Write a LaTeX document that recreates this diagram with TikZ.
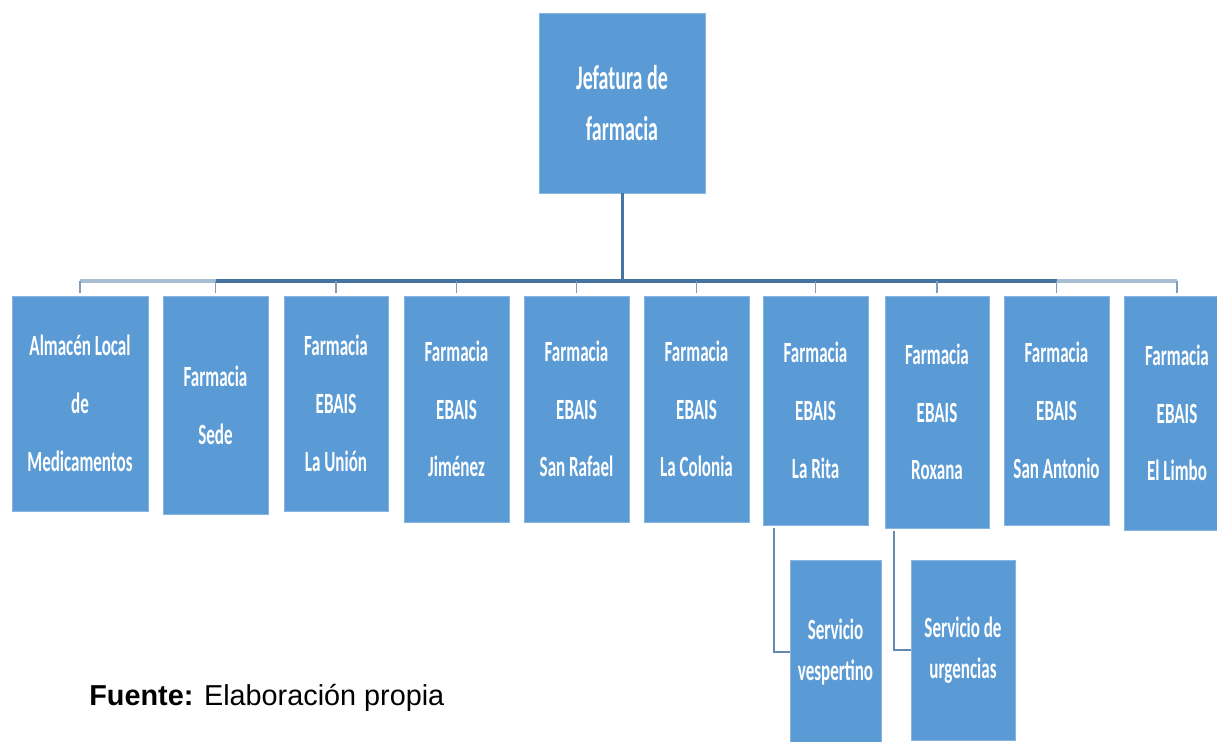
\documentclass[tikz,border=0pt]{standalone}
\usepackage{fontspec}
\setmainfont{Liberation Sans}
\newfontfamily\boxfont[FakeStretch=0.58,UprightFont={* Bold}]{Carlito}
\usetikzlibrary{calc}
\definecolor{unitblue}{RGB}{91,155,213}
\definecolor{unitedge}{RGB}{135,180,225}
\definecolor{linedark}{RGB}{70,116,162}
\definecolor{linelight}{RGB}{168,190,212}
\definecolor{droplight}{RGB}{128,158,188}
\newcommand\unitpx{0.02cm}

\begin{document}
\begin{tikzpicture}[x=0.02cm, y=-0.02cm,
    unit/.style = {shape = rectangle, fill = unitblue, draw = unitedge, line width = 0.4pt, text = white, inner sep = 0pt, align = center, font = \boxfont\fontsize{16.7}{32.9}\selectfont},
    head/.style = {unit, font = \boxfont\fontsize{19.6}{28.9}\selectfont},
    subunit/.style = {unit, font = \boxfont\fontsize{16.7}{23.2}\selectfont},
    box/.style 2 args = {minimum width = #1*\unitpx, minimum height = #2*\unitpx},
    trunk/.style = {draw = linedark, line width = 1.7pt},
    bar/.style = {draw = linedark, line width = 2.3pt},
    barend/.style = {draw = linelight, line width = 2.3pt},
    drop/.style = {draw = droplight, line width = 1.1pt, shorten > = 1.5pt},
    branch/.style = {draw = linedark!85, line width = 1.1pt},
    ]
    \useasboundingbox (0,0) rectangle (1217,742);

    \node[head, box = {166}{180}] (jef) at (622, 103) {Jefatura de\\farmacia};

    \node[unit, box = {136}{215}] (alm) at (80, 403.5) {Almacén Local\\de\\Medicamentos};
    \node[unit, box = {105}{218}] (sede) at (215.5, 405) {Farmacia\\Sede};
    \node[unit, box = {104}{215}] (union) at (336, 403.5) {Farmacia\\EBAIS\\La Unión};
    \node[unit, box = {105}{226}] (jim) at (456.5, 409) {Farmacia\\EBAIS\\Jiménez};
    \node[unit, box = {105}{226}] (rafael) at (576.5, 409) {Farmacia\\EBAIS\\San Rafael};
    \node[unit, box = {105}{226}] (colonia) at (696.5, 409) {Farmacia\\EBAIS\\La Colonia};
    \node[unit, box = {105}{229}] (rita) at (815.5, 410.5) {Farmacia\\EBAIS\\La Rita};
    \node[unit, box = {104}{232}] (roxana) at (937, 412) {Farmacia\\EBAIS\\Roxana};
    \node[unit, box = {105}{229}] (antonio) at (1056.5, 410.5) {Farmacia\\EBAIS\\San Antonio};
    \node[unit, box = {105}{234}] (limbo) at (1177, 413) {Farmacia\\EBAIS\\El Limbo};

    \node[subunit, box = {91}{184}] (vesp) at (835.5, 652) {Servicio\\vespertino};
    \node[subunit, box = {104}{180}] (urg) at (963, 650) {Servicio de\\urgencias};

    \coordinate (bar) at (622, 281);
    \coordinate (barL) at (alm.north |- bar);
    \coordinate (barR) at (limbo.north |- bar);

    \draw[trunk] (jef.south) -- (bar);
    \draw[barend] (barL) -- (sede.north |- bar);
    \draw[barend] (antonio.north |- bar) -- (barR);
    \draw[bar] (sede.north |- bar) -- (antonio.north |- bar);

    \foreach \n in {alm, sede, union, jim, rafael, colonia, rita, roxana, antonio, limbo}
        \draw[drop] (\n.north |- bar) -- (\n.north);

    \draw[branch] ($(rita.south west) + (11, 3)$) |- (vesp.west);
    \draw[branch] ($(roxana.south west) + (9, 3)$) |- (urg.west);

    \node[anchor = base west, inner sep = 0pt, font = \fontsize{16.4}{19}\selectfont] (src) at (89, 705) {\textbf{Fuente:} Elaboración propia};
\end{tikzpicture}
\end{document}
